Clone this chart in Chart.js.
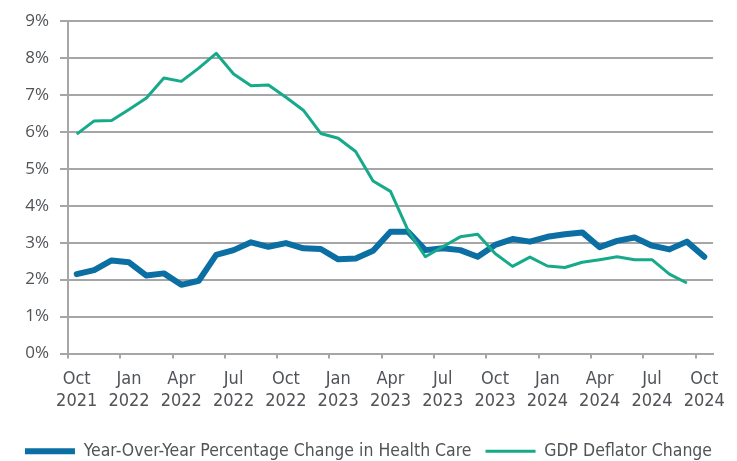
<!DOCTYPE html>
<html>
<head>
<meta charset="utf-8">
<script src="https://cdn.jsdelivr.net/npm/chart.js@4/dist/chart.umd.min.js"></script>
<style>
  html, body { margin: 0; padding: 0; background: #ffffff; }
  #wrap { width: 737px; height: 461px; position: relative; }
</style>
</head>
<body>
<div id="wrap"><canvas id="c"></canvas></div>
<script>
// Categories: monthly, Oct 2021 – Oct 2024
const months = [
  'Oct 2021','Nov 2021','Dec 2021',
  'Jan 2022','Feb 2022','Mar 2022','Apr 2022','May 2022','Jun 2022',
  'Jul 2022','Aug 2022','Sep 2022','Oct 2022','Nov 2022','Dec 2022',
  'Jan 2023','Feb 2023','Mar 2023','Apr 2023','May 2023','Jun 2023',
  'Jul 2023','Aug 2023','Sep 2023','Oct 2023','Nov 2023','Dec 2023',
  'Jan 2024','Feb 2024','Mar 2024','Apr 2024','May 2024','Jun 2024',
  'Jul 2024','Aug 2024','Sep 2024','Oct 2024'
];

// Series values (%)
const healthCare = [
  2.15, 2.26, 2.52, 2.47, 2.11, 2.17, 1.86, 1.97, 2.67,
  2.80, 3.01, 2.89, 2.99, 2.85, 2.83, 2.55, 2.57, 2.78,
  3.30, 3.30, 2.80, 2.85, 2.80, 2.62, 2.94, 3.10, 3.03,
  3.16, 3.23, 3.28, 2.88, 3.05, 3.14, 2.92, 2.82, 3.03, 2.62
];
const gdpDeflator = [
  5.94, 6.30, 6.31, 6.61, 6.92, 7.46, 7.37, 7.73, 8.13,
  7.57, 7.25, 7.27, 6.94, 6.59, 5.96, 5.83, 5.47, 4.67,
  4.39, 3.34, 2.62, 2.89, 3.16, 3.23, 2.71, 2.36, 2.61,
  2.37, 2.33, 2.47, 2.54, 2.62, 2.54, 2.54, 2.15, 1.91, null
];

// Tick labels
const yTicks = [0, 1, 2, 3, 4, 5, 6, 7, 8, 9];
const labelEvery = 3;

const seriesNames = ['Year-Over-Year Percentage Change in Health Care', 'GDP Deflator Change'];
const colors = ['#0b6fa3', '#16aa8a'];

const narrow = '"DejaVu Sans Condensed", "DejaVu Sans", sans-serif';
const textColor = '#505357';
const gridColor = '#a6a6a6';

new Chart(document.getElementById('c'), {
  type: 'line',
  data: {
    labels: months,
    datasets: [
      {
        label: seriesNames[1],
        data: gdpDeflator,
        borderColor: colors[1],
        backgroundColor: colors[1],
        borderWidth: 3,
        pointRadius: 0,
        tension: 0,
        borderJoinStyle: 'round'
      },
      {
        label: seriesNames[0],
        data: healthCare,
        borderColor: colors[0],
        backgroundColor: colors[0],
        borderWidth: 6,
        pointRadius: 0,
        tension: 0,
        borderJoinStyle: 'round',
        borderCapStyle: 'round'
      }
    ]
  },
  options: {
    responsive: true,
    maintainAspectRatio: false,
    animation: false,
    layout: { padding: { top: 15, right: 0, left: 0, bottom: -9 } },
    plugins: {
      tooltip: { enabled: false },
      legend: {
        position: 'bottom',
        reverse: true,
        labels: {
          usePointStyle: true,
          pointStyle: 'line',
          pointStyleWidth: 50,
          boxHeight: 17,
          padding: 14,
          color: textColor,
          font: { family: narrow, size: 17.5, weight: 'normal condensed' }
        }
      }
    },
    scales: {
      x: {
        type: 'category',
        offset: true,
        afterFit: (scale) => { scale.height = 75; },
        grid: {
          offset: true,
          drawOnChartArea: false,
          drawTicks: true,
          tickLength: 5,
          lineWidth: 2,
          color: (ctx) => (ctx.index % labelEvery === 0 ? gridColor : 'rgba(0,0,0,0)')
        },
        border: { display: true, color: gridColor, width: 2 },
        ticks: {
          autoSkip: false,
          maxRotation: 0,
          minRotation: 0,
          padding: 9,
          color: textColor,
          font: { family: narrow, size: 18, lineHeight: 1.26, weight: 'normal condensed' },
          callback: function (value, index) {
            return index % labelEvery === 0 ? months[index].split(' ') : '';
          }
        }
      },
      y: {
        min: yTicks[0],
        max: yTicks[yTicks.length - 1],
        afterBuildTicks: (scale) => { scale.ticks = yTicks.map(v => ({ value: v })); },
        afterFit: (scale) => { scale.width = 68; },
        grid: {
          color: gridColor,
          lineWidth: 2,
          tickLength: 8
        },
        border: { display: true, color: gridColor, width: 2 },
        ticks: {
          padding: 11,
          color: textColor,
          font: { family: '"Open Sans", sans-serif', size: 17 },
          callback: (v) => v + '%'
        }
      },
      spacer: {
        position: 'right',
        display: true,
        afterFit: (scale) => { scale.width = 24; },
        grid: { display: false, drawTicks: false },
        border: { display: false },
        ticks: { display: false }
      }
    }
  }
});
</script>
</body>
</html>
